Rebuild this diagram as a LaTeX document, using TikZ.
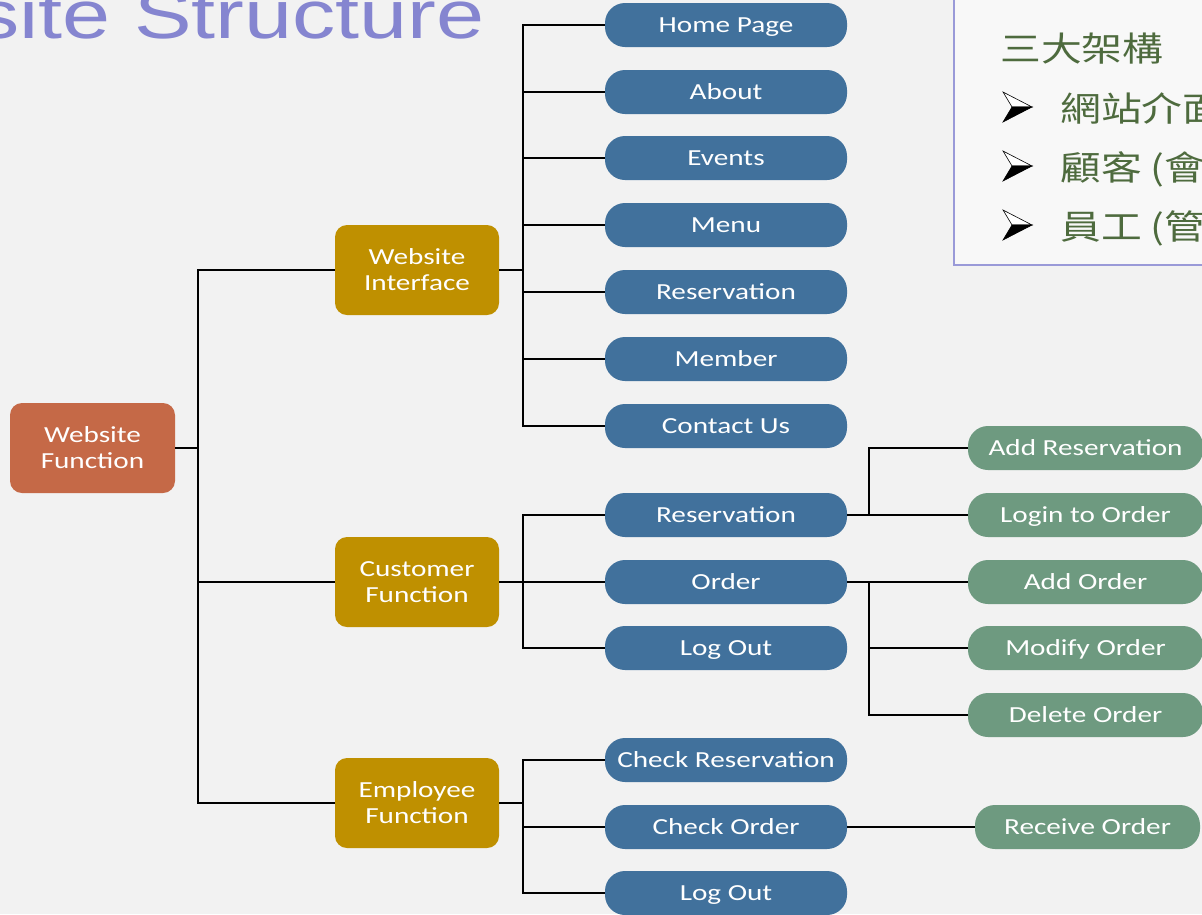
\documentclass[tikz,border=0pt]{standalone}
\usepackage{fontspec}
\newfontfamily\nodefont[FakeStretch=1.27]{Carlito}
\newfontfamily\titlefont[FakeStretch=1.27]{Liberation Sans}
\newfontfamily\cjkfont[FakeStretch=1.2]{Noto Sans CJK TC}
\definecolor{rootc}{HTML}{C56947}
\definecolor{goldc}{HTML}{BF9000}
\definecolor{bluec}{HTML}{41719C}
\definecolor{greenc}{HTML}{6E9A80}
\definecolor{bgc}{HTML}{F2F2F2}
\definecolor{titlec}{HTML}{8585D0}
\definecolor{cjkc}{HTML}{4E6B3E}
\definecolor{boxline}{HTML}{9A9AD8}
\tikzset{
  conn/.style={line width=1.6pt, black},
  rootbox/.style={fill=rootc, rounded corners=12pt, minimum width=165pt, minimum height=90pt,
    text=white, align=center, inner sep=0pt, text height=44pt, text depth=3.2pt,
    font={\nodefont\fontsize{23}{26}\selectfont}},
  midbox/.style={rootbox, fill=goldc, minimum width=164pt},
  leafbox/.style={fill=bluec, rounded corners=20pt, minimum width=242pt, minimum height=44pt,
    text=white, inner sep=0pt, text height=18pt, text depth=3.2pt,
    font={\nodefont\fontsize{23}{26}\selectfont}},
  subbox/.style={leafbox, fill=greenc, minimum width=235pt},
  cjktext/.style={anchor=base west, inner sep=0pt, text=cjkc, font={\cjkfont\fontsize{34}{40}\selectfont}},
}
\begin{document}
\begin{tikzpicture}[x=1pt,y=-1pt]
\useasboundingbox (0,0) rectangle (1202,914);
\clip (0,0) rectangle (1202,914);
\fill[bgc] (0,0) rectangle (1202,914);

% title
\node[anchor=base east, inner sep=0pt, text=titlec, font={\titlefont\fontsize{68}{70}\selectfont}] (title) at (485,38) {site Structure};

% info box
\draw[boxline, line width=1.5pt, fill=white!50!bgc] (954,-10) rectangle (1220,265);
\node[cjktext] (t0) at (1000,61) {三大架構};
\node[cjktext] (t1) at (1060,121) {網站介面};
\node[cjktext] (t2) at (1060,180) {顧客 (會};
\node[cjktext] (t3) at (1060,239) {員工 (管};
\foreach \yy in {107,166,225}{
  \filldraw[draw=black, fill=white, line width=0.6pt] (1003,\yy-15) -- (1032,\yy) -- (1012,\yy) -- cycle;
  \filldraw[draw=black, fill=black, line width=0.6pt] (1003,\yy+15) -- (1032,\yy) -- (1012,\yy) -- cycle;
}

% tree nodes
\node[rootbox] (root) at (92.5,448) {Website\\Function};
\node[midbox] (wi) at (417,270) {Website\\Interface};
\node[midbox] (cf) at (417,582) {Customer\\Function};
\node[midbox] (ef) at (417,803) {Employee\\Function};

\node[leafbox] (hp) at (726,25) {Home Page};
\node[leafbox] (ab) at (726,92) {About};
\node[leafbox] (ev) at (726,158) {Events};
\node[leafbox] (mn) at (726,225) {Menu};
\node[leafbox] (rs) at (726,292) {Reservation};
\node[leafbox] (mb) at (726,359) {Member};
\node[leafbox] (cu) at (726,426) {Contact Us};

\node[leafbox] (cr) at (726,515) {Reservation};
\node[leafbox] (co) at (726,582) {Order};
\node[leafbox] (cl) at (726,648) {Log Out};

\node[leafbox] (ecr) at (726,760) {Check Reservation};
\node[leafbox] (eco) at (726,827) {Check Order};
\node[leafbox] (elo) at (726,893) {Log Out};

\node[subbox] (gar) at (1085.5,448) {Add Reservation};
\node[subbox] (glo) at (1085.5,515) {Login to Order};
\node[subbox] (gao) at (1085.5,582) {Add Order};
\node[subbox] (gmo) at (1085.5,648) {Modify Order};
\node[subbox] (gdo) at (1085.5,715) {Delete Order};
\node[subbox, minimum width=225pt] (gro) at (1087.5,827) {Receive Order};

% buses
\coordinate (b0) at (198,448);
\coordinate (b1) at (523,270);
\coordinate (b2) at (523,582);
\coordinate (b3) at (523,803);
\coordinate (b4) at (869,515);
\coordinate (b5) at (869,582);

\draw[conn] (root.east) -- (b0);
\draw[conn] (b0) |- (wi.west);
\draw[conn] (b0) |- (cf.west);
\draw[conn] (b0) |- (ef.west);

\draw[conn] (wi.east) -- (b1);
\foreach \n in {hp,ab,ev,mn,rs,mb,cu}{\draw[conn] (b1) |- (\n.west);}

\draw[conn] (cf.east) -- (b2);
\foreach \n in {cr,co,cl}{\draw[conn] (b2) |- (\n.west);}

\draw[conn] (ef.east) -- (b3);
\foreach \n in {ecr,eco,elo}{\draw[conn] (b3) |- (\n.west);}

\draw[conn] (cr.east) -- (b4);
\draw[conn] (b4) |- (gar.west);
\draw[conn] (b4) |- (glo.west);

\draw[conn] (co.east) -- (b5);
\foreach \n in {gao,gmo,gdo}{\draw[conn] (b5) |- (\n.west);}

\draw[conn] (eco.east) -- (gro.west);
\end{tikzpicture}
\end{document}
